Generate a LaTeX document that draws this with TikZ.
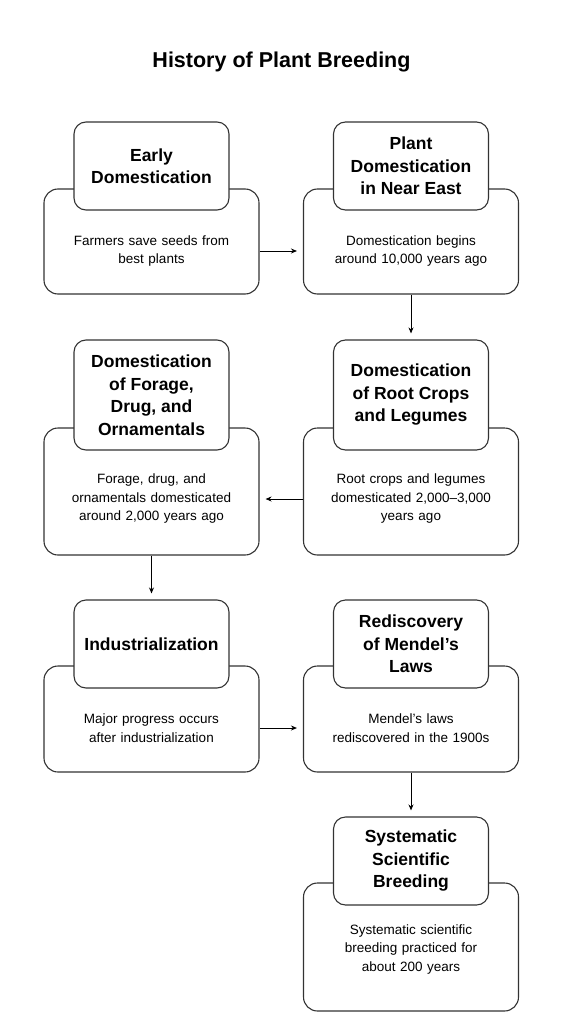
\documentclass[tikz,border=0pt]{standalone}
\usepackage{fontspec}
\setmainfont{Liberation Sans}
\usetikzlibrary{arrows.meta, positioning}
\definecolor{edgegray}{HTML}{333333}
\tikzset{x = 1pt, y = -1pt,
	 >= {Stealth[length = 6pt, width = 5pt]},
	 stagebody/.style = {draw = edgegray, line width = 1.1pt, fill = white,
			     rounded corners = 14pt, minimum width = 215pt},
	 stagehead/.style = {draw = edgegray, line width = 1.1pt, fill = white,
			     rounded corners = 12pt, minimum width = 155pt,
			     align = center, font = \fontsize{17.5}{22.5}\selectfont\bfseries},
	 stagetext/.style = {align = center, text width = 205pt,
			     font = \fontsize{13.5}{18.5}\selectfont},
	 flow/.style = {->, draw = black, line width = 1pt, shorten >= 6pt}}
\begin{document}
\begin{tikzpicture}
      \useasboundingbox (0,0) rectangle (563,1024);
      \node [font = \fontsize{21.5}{25}\selectfont\bfseries] (title) at (281.5,62) {History of Plant Breeding};
      % bodies
      \node [stagebody, minimum height = 105pt] (b1) at (151.5,241.5) {};
      \node [stagebody, minimum height = 105pt] (b2) at (411,241.5) {};
      \node [stagebody, minimum height = 127pt] (b3) at (411,491.5) {};
      \node [stagebody, minimum height = 127pt] (b4) at (151.5,491.5) {};
      \node [stagebody, minimum height = 106pt] (b5) at (151.5,719) {};
      \node [stagebody, minimum height = 106pt] (b6) at (411,719) {};
      \node [stagebody, minimum height = 128pt] (b7) at (411,947) {};
      % headers
      \node [stagehead, minimum height = 88pt] (h1) at (151.5,166) {Early\\Domestication};
      \node [stagehead, minimum height = 88pt] (h2) at (411,166) {Plant\\Domestication\\in Near East};
      \node [stagehead, minimum height = 110pt] (h3) at (411,395) {Domestication\\of Root Crops\\and Legumes};
      \node [stagehead, minimum height = 110pt] (h4) at (151.5,395) {Domestication\\of Forage,\\Drug, and\\Ornamentals};
      \node [stagehead, minimum height = 88pt] (h5) at (151.5,644) {Industrialization};
      \node [stagehead, minimum height = 88pt] (h6) at (411,644) {Rediscovery\\of Mendel’s\\Laws};
      \node [stagehead, minimum height = 88pt] (h7) at (411,861) {Systematic\\Scientific\\Breeding};
      % texts
      \node [stagetext] (t1) at (151.5,251) {Farmers save seeds from\\best plants};
      \node [stagetext] (t2) at (411,251) {Domestication begins\\around 10,000 years ago};
      \node [stagetext] (t3) at (411,499) {Root crops and legumes\\domesticated 2,000–3,000\\years ago};
      \node [stagetext] (t4) at (151.5,499) {Forage, drug, and\\ornamentals domesticated\\around 2,000 years ago};
      \node [stagetext] (t5) at (151.5,728) {Major progress occurs\\after industrialization};
      \node [stagetext] (t6) at (411,728) {Mendel’s laws\\rediscovered in the 1900s};
      \node [stagetext] (t7) at (411,949) {Systematic scientific\\breeding practiced for\\about 200 years};
      % connectors
      \draw [flow] (t1 -| b1.east) -- (t1 -| b2.west);
      \draw [flow] (b2) -- (h3);
      \draw [flow] (t3 -| b3.west) -- (t3 -| b4.east);
      \draw [flow] (b4) -- (h5);
      \draw [flow] (t5 -| b5.east) -- (t5 -| b6.west);
      \draw [flow] (b6) -- (h7);
    \end{tikzpicture}
\end{document}
